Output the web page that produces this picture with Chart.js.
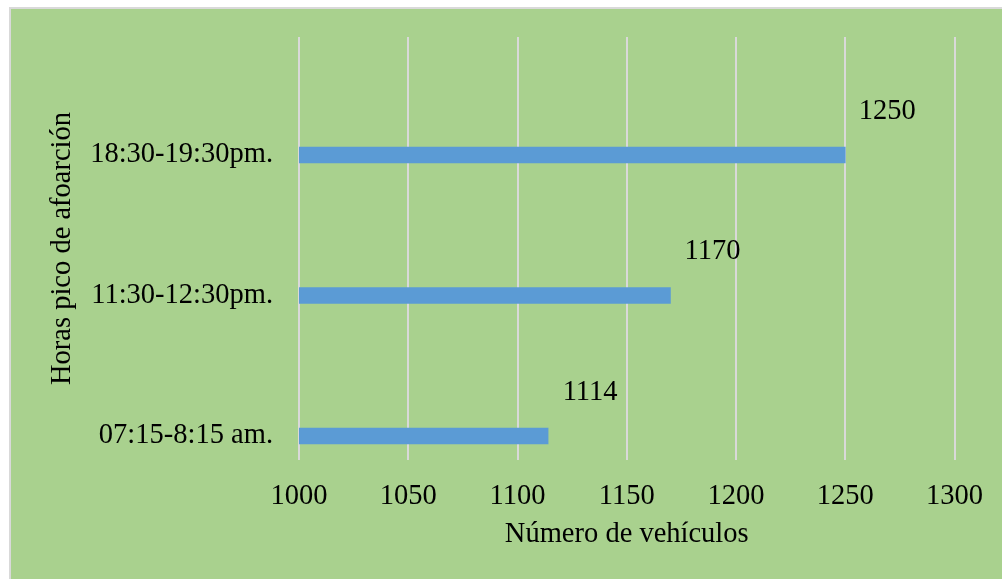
<!DOCTYPE html>
<html>
<head>
<meta charset="utf-8">
<script src="https://cdn.jsdelivr.net/npm/chart.js@4"></script>
<style>
html,body{margin:0;padding:0;background:#ffffff;}
#wrap{position:absolute;left:0;top:0;width:1002px;height:579px;}
</style>
</head>
<body>
<div id="wrap"><canvas id="c" width="1002" height="579"></canvas></div>
<script>
const categories = ['18:30-19:30pm.', '11:30-12:30pm.', '07:15-8:15 am.'];
const vehicles = [1250, 1170, 1114];
const xTicks = [1000, 1050, 1100, 1150, 1200, 1250, 1300];
const xTitle = 'Número de vehículos';
const yTitle = 'Horas pico de afoarción';

const FONT = "'Liberation Serif','Times New Roman',serif";
const FS = 28.5;

const bgPlugin = {
  id: 'bg',
  beforeDraw(chart) {
    const ctx = chart.ctx;
    ctx.save();
    ctx.fillStyle = '#ffffff';
    ctx.fillRect(0, 0, chart.width, chart.height);
    ctx.fillStyle = '#A9D18E';
    ctx.fillRect(10, 8, chart.width - 10, chart.height - 8);
    ctx.fillStyle = '#d9d9d9';
    ctx.fillRect(9, 7, chart.width - 9, 2);
    ctx.fillRect(9, 7, 2, chart.height - 7);
    ctx.restore();
  }
};

const labelPlugin = {
  id: 'vlabels',
  afterDatasetsDraw(chart) {
    const ctx = chart.ctx;
    const meta = chart.getDatasetMeta(0);
    ctx.save();
    ctx.font = FS + 'px ' + FONT;
    ctx.fillStyle = '#000000';
    ctx.textAlign = 'center';
    ctx.textBaseline = 'alphabetic';
    meta.data.forEach((bar, i) => {
      ctx.fillText(String(vehicles[i]), bar.x + 42, bar.y - 36);
    });
    ctx.restore();
  }
};

new Chart(document.getElementById('c'), {
  type: 'bar',
  data: {
    datasets: [{
      data: vehicles.map((v, i) => ({ x: v, y: i })),
      backgroundColor: '#5B9BD5',
      borderWidth: 0,
      barThickness: 16
    }]
  },
  options: {
    indexAxis: 'y',
    responsive: false,
    animation: false,
    devicePixelRatio: 1,
    layout: { padding: { top: 37, right: 47, left: 0, bottom: 0 } },
    plugins: { legend: { display: false }, tooltip: { enabled: false } },
    scales: {
      x: {
        type: 'linear',
        position: 'bottom',
        min: xTicks[0],
        max: xTicks[xTicks.length - 1],
        offset: false,
        afterBuildTicks(scale) { scale.ticks = xTicks.map(v => ({ value: v })); },
        grid: { color: '#d9d9d9', lineWidth: 2, drawTicks: false, offset: false },
        border: { display: false },
        ticks: { color: '#000', font: { family: FONT, size: FS }, padding: 19, callback: (v) => String(v) },
        title: { display: true, text: xTitle, color: '#000', font: { family: FONT, size: FS }, padding: { top: 0, bottom: 27 } },
        afterFit(scale) { scale.height = 119; }
      },
      y: {
        type: 'linear',
        position: 'left',
        reverse: true,
        offset: false,
        min: -0.84,
        max: 2.171,
        afterBuildTicks(scale) { scale.ticks = categories.map((c, i) => ({ value: i })); },
        grid: { display: false, drawTicks: false, offset: false },
        border: { display: false },
        ticks: { color: '#000', font: { family: FONT, size: FS }, padding: 26, callback: (v) => categories[v] },
        title: { display: true, text: yTitle, color: '#000', font: { family: FONT, size: FS }, padding: { top: 45, bottom: 0 } },
        afterFit(scale) { scale.width = 299; scale.paddingTop = 0; scale.paddingBottom = 0; }
      }
    }
  },
  plugins: [bgPlugin, labelPlugin]
});
</script>
</body>
</html>
